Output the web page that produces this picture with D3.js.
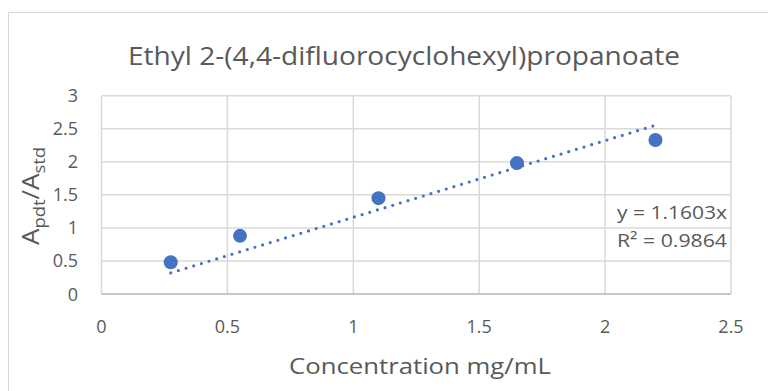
<!DOCTYPE html>
<html>
<head>
<meta charset="utf-8">
<script src="https://cdn.jsdelivr.net/npm/d3@7"></script>
<style>
  body { margin: 0; background: #fff; }
  svg text { font-family: "Open Sans", "Noto Sans", sans-serif; fill: #595959; }
</style>
</head>
<body>
<div id="chart"></div>
<script>
// data
let concentrations = [0.275, 0.55, 1.1, 1.65, 2.2];
let areaRatios = [0.48, 0.88, 1.45, 1.98, 2.33];
let xTicks = [0, 0.5, 1, 1.5, 2, 2.5];
let yTicks = [0, 0.5, 1, 1.5, 2, 2.5, 3];
let slope = 1.1603;
let equationLabels = ['y = 1.1603x', 'R² = 0.9864'];
let chartTitle = 'Ethyl 2-(4,4-difluorocyclohexyl)propanoate';
let xTitle = 'Concentration mg/mL';

let width = 768, height = 391;
let plot = { left: 101.5, right: 731, top: 95.7, bottom: 294 };

let svg = d3.select('#chart').append('svg')
    .attr('width', width)
    .attr('height', height);

// outer chart border
svg.append('rect')
    .attr('x', 8.5).attr('y', 12.5)
    .attr('width', 800).attr('height', 400)
    .attr('fill', 'none')
    .attr('stroke', '#d9d9d9');

let x = d3.scaleLinear().domain([0, 2.5]).range([plot.left, plot.right]);
let y = d3.scaleLinear().domain([0, 3]).range([plot.bottom, plot.top]);

// grid lines
svg.append('g').selectAll('line').data(xTicks).enter()
    .append('line')
    .attr('x1', d => x(d)).attr('x2', d => x(d))
    .attr('y1', plot.top).attr('y2', plot.bottom)
    .attr('stroke', '#d9d9d9').attr('stroke-width', 1.5);

svg.append('g').selectAll('line').data(yTicks).enter()
    .append('line')
    .attr('x1', plot.left).attr('x2', plot.right)
    .attr('y1', d => y(d)).attr('y2', d => y(d))
    .attr('stroke', '#d9d9d9').attr('stroke-width', 1.5);

// bottom axis line a bit darker
svg.append('line')
    .attr('x1', plot.left).attr('x2', plot.right)
    .attr('y1', y(0)).attr('y2', y(0))
    .attr('stroke', '#bfbfbf').attr('stroke-width', 1.5);

// tick labels
svg.append('g').selectAll('text').data(xTicks).enter()
    .append('text')
    .attr('x', d => x(d))
    .attr('y', 333)
    .attr('text-anchor', 'middle')
    .style('font-size', '18px')
    .text(d => d);

svg.append('g').selectAll('text').data(yTicks).enter()
    .append('text')
    .attr('x', 78)
    .attr('y', d => y(d) + 6.5)
    .attr('text-anchor', 'end')
    .style('font-size', '18px')
    .text(d => d);

// trendline (linear through origin), spanning the data range
let xExt = d3.extent(concentrations);
svg.append('line')
    .attr('x1', x(xExt[0])).attr('y1', y(slope * xExt[0]))
    .attr('x2', x(xExt[1])).attr('y2', y(slope * xExt[1]))
    .attr('stroke', '#4472c4')
    .attr('stroke-width', 3.2)
    .attr('stroke-linecap', 'round')
    .attr('stroke-dasharray', '0 8');

// points
svg.append('g').selectAll('circle')
    .data(concentrations.map((c, i) => [c, areaRatios[i]]))
    .enter().append('circle')
    .attr('cx', d => x(d[0]))
    .attr('cy', d => y(d[1]))
    .attr('r', 7)
    .attr('fill', '#4472c4');

// equation label
svg.append('g').selectAll('text').data(equationLabels).enter()
    .append('text')
    .attr('x', 727)
    .attr('y', (d, i) => 219 + i * 28)
    .attr('text-anchor', 'end')
    .style('font-size', '19px')
    .attr('textLength', 110).attr('lengthAdjust', 'spacingAndGlyphs')
    .text(d => d);

// titles
svg.append('text')
    .attr('x', 404).attr('y', 65)
    .attr('text-anchor', 'middle')
    .style('font-size', '25px')
    .attr('textLength', 552).attr('lengthAdjust', 'spacingAndGlyphs')
    .text(chartTitle);

svg.append('text')
    .attr('x', 420).attr('y', 374)
    .attr('text-anchor', 'middle')
    .style('font-size', '22px')
    .attr('textLength', 262).attr('lengthAdjust', 'spacingAndGlyphs')
    .text(xTitle);

let yTitle = svg.append('text')
    .attr('transform', 'translate(39,' + 196 + ') rotate(-90)')
    .attr('text-anchor', 'middle')
    .attr('textLength', 98).attr('lengthAdjust', 'spacingAndGlyphs')
    .style('font-size', '24px');
yTitle.append('tspan').text('A');
yTitle.append('tspan').attr('dy', 6).style('font-size', '17px').text('pdt');
yTitle.append('tspan').attr('dy', -6).text('/A');
yTitle.append('tspan').attr('dy', 6).style('font-size', '17px').text('std');
</script>
</body>
</html>
